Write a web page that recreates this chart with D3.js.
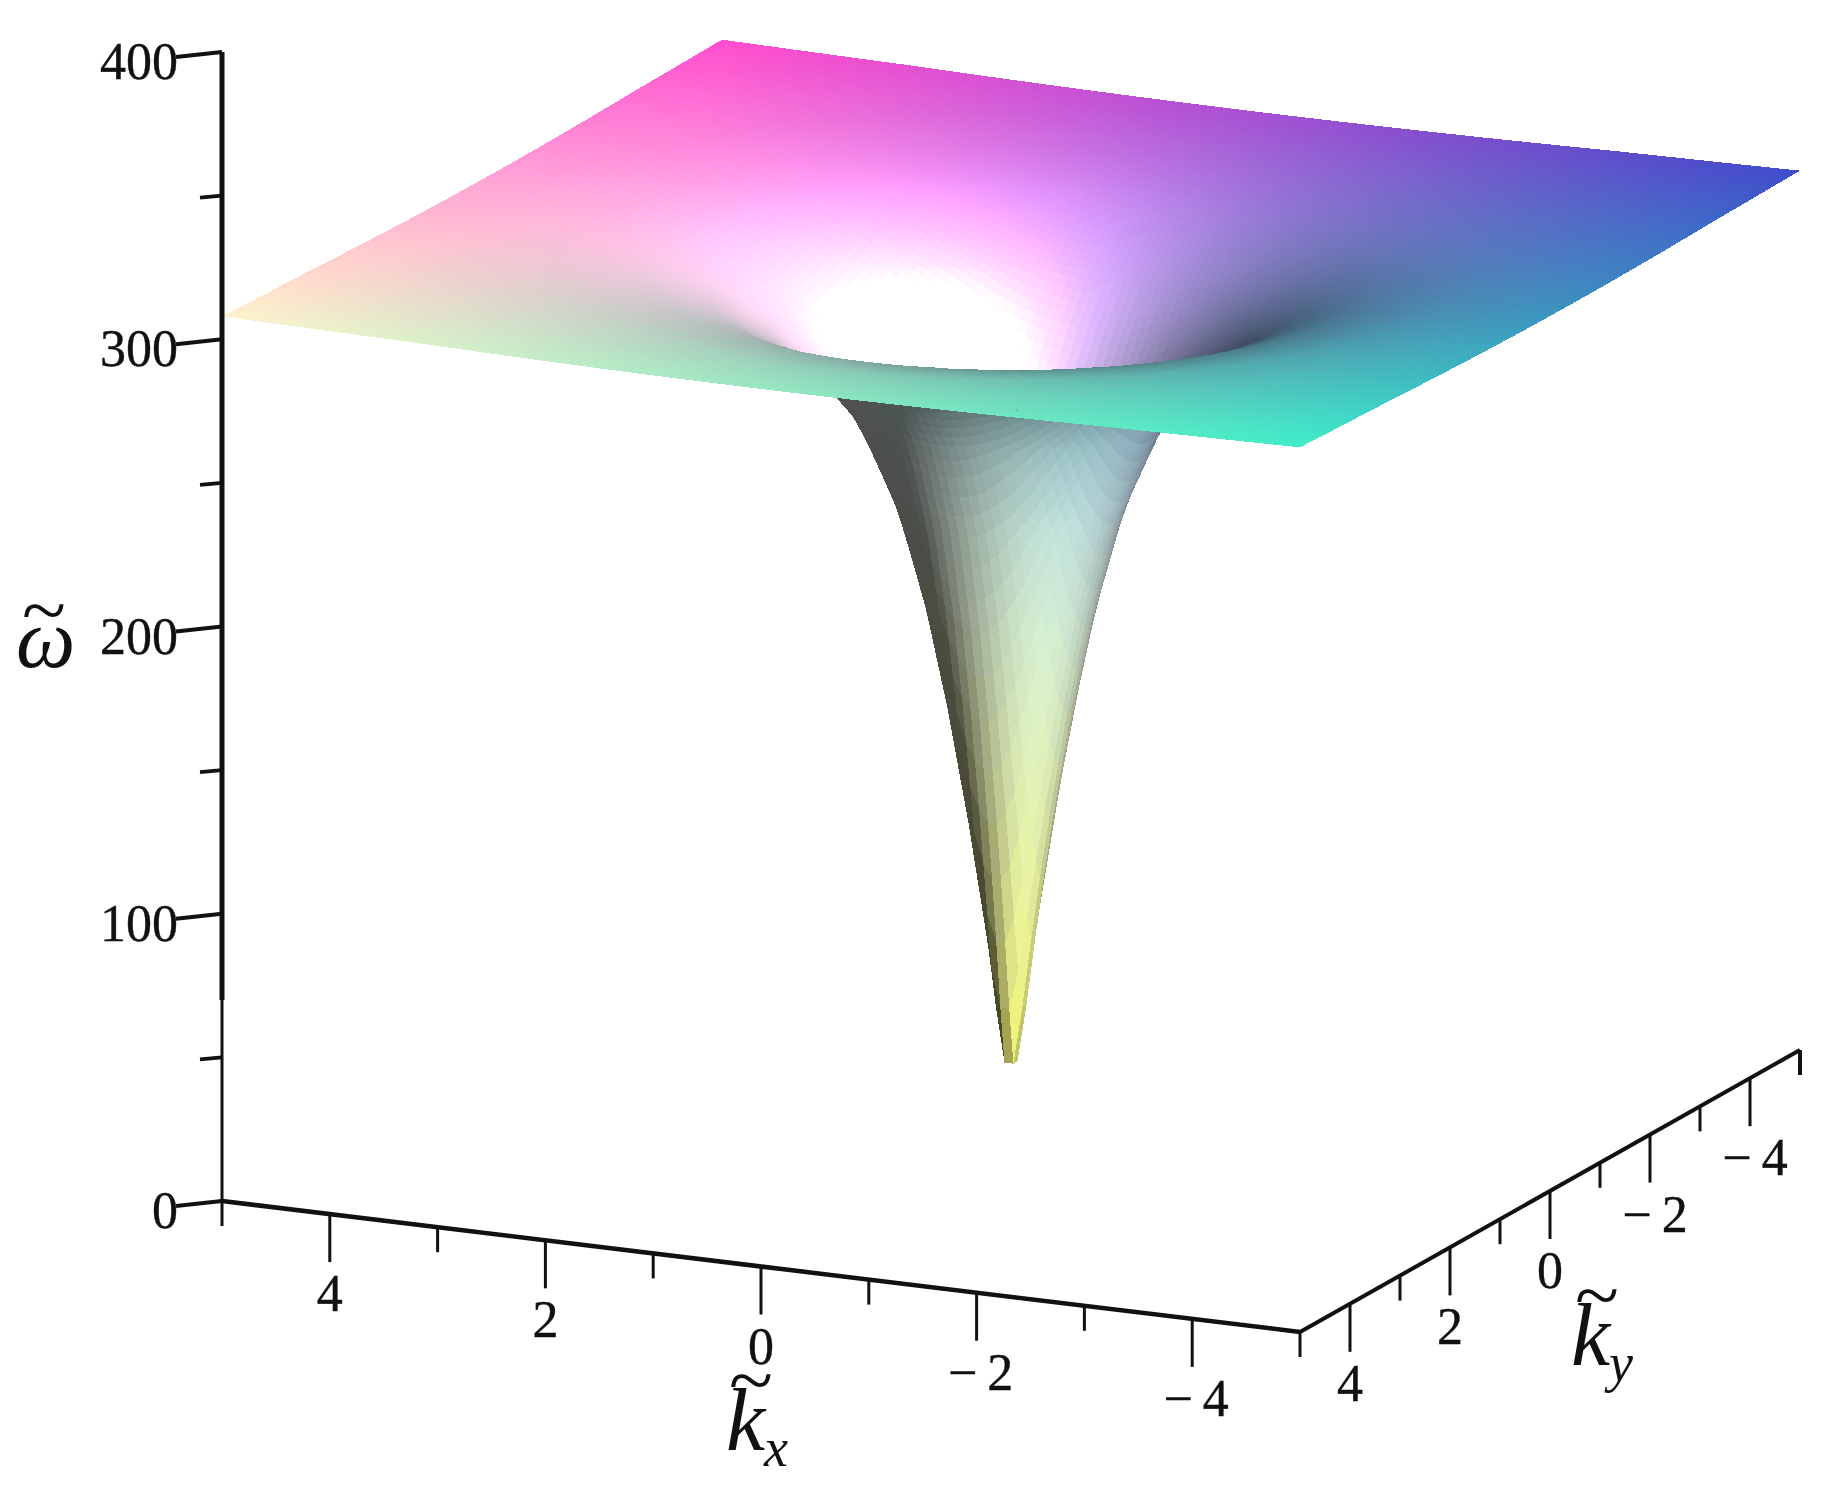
<!DOCTYPE html>
<html>
<head>
<meta charset="utf-8">
<script src="https://cdn.jsdelivr.net/npm/d3@7"></script>
<style>
  html, body { margin: 0; padding: 0; background: #fff; }
  text { font-family: "Liberation Serif", serif; fill: #111; }
</style>
</head>
<body>
<div id="chart"></div>
<script>
'use strict';

// valores
const kxTicks = [5, 4, 3, 2, 1, 0, -1, -2, -3, -4, -5];
const kyTicks = [5, 4, 3, 2, 1, 0, -1, -2, -3, -4, -5];
const kLabels = [4, 2, 0, -2, -4];
const wTicks = [0, 50, 100, 150, 200, 250, 300, 350, 400];
const wLabels = [0, 100, 200, 300, 400];

// perfil del embudo: radio en (kx, ky) y altura omega
const profileR = [0, 0.07, 0.135, 0.25, 0.39, 0.55, 0.73, 0.96, 1.22, 1.35, 1.6, 2, 2.5, 3, 4, 5, 6, 7.1, 8];
const profileW = [18, 23, 43.5, 78, 113, 149, 183, 216, 240, 250, 262, 277, 289, 296, 303, 305.5, 307, 308, 308];

const width = 1836;
const height = 1493;
const originX = 222;
const originY = 1201;
const gridN = 121;

// proyeccion paralela: cada eje tiene su desplazamiento en pantalla
const kxToX = d3.scaleLinear().domain([5, -5]).range([0, 1078]);
const kxToY = d3.scaleLinear().domain([5, -5]).range([0, 131]);
const kyToX = d3.scaleLinear().domain([5, -5]).range([0, 500]);
const kyToY = d3.scaleLinear().domain([5, -5]).range([0, -282]);
const wToY = d3.scaleLinear().domain([0, 400]).range([0, -1149]);
// un poco de perspectiva en la altura
const depth = d3.scaleLinear().domain([5, -5]).range([1, 0.994]);

const surface = d3.scaleLinear().domain(profileR).range(profileW).clamp(true);

// color xyz de Maple
const redScale = d3.scaleLinear().domain([-5, 5]).range([0.25, 1]);
const greenScale = d3.scaleLinear().domain([-5, 5]).range([0.3, 0.95]);
const blueScale = d3.scaleLinear().domain([22, 308]).range([0.31, 0.8]);

const light = [-0.72, 0.55, 0.42];
const ambient = 0.45;
const diffuse = 1.3;
const shine = 0.6;
const slopeScale = 1 / 50;

function project(kx, ky, w) {
  return [
    originX + kxToX(kx) + kyToX(ky),
    originY + kxToY(kx) + kyToY(ky) + wToY(w) * depth(ky),
  ];
}

function cellColor(kx, ky, w, flip) {
  const r = Math.hypot(kx, ky) || 1e-6;
  const h = Math.max(0.06, 0.35 * r);
  const lo = Math.max(0, r - h);
  const slope = (surface(r + h) - surface(lo)) / (r + h - lo);
  const sl = slope * slopeScale;
  let n = [-sl * kx / r, -sl * ky / r, 1];
  const len = Math.hypot(n[0], n[1], n[2]);
  n = n.map(v => v / len * (flip ? -1 : 1));
  const dot = Math.max(0, n[0] * light[0] + n[1] * light[1] + n[2] * light[2]);
  const m = ambient + diffuse * dot;
  // brillo blanco solo en la cara de arriba
  const spec = flip ? 0 : shine * Math.pow(dot, 8);
  return d3.rgb(
    255 * Math.min(1, redScale(kx) * m + spec),
    255 * Math.min(1, greenScale(ky) * m + spec),
    255 * Math.min(1, blueScale(w) * m + spec)
  ).formatHex();
}

// celdas ordenadas de atras hacia adelante
const step = 10 / gridN;
const cells = [];
d3.range(gridN).forEach(i => {
  const kx0 = 5 - i * step;
  const kx1 = kx0 - step;
  d3.range(gridN).forEach(j => {
    const ky0 = -5 + j * step;
    const ky1 = ky0 + step;
    const corners = [[kx0, ky0], [kx0, ky1], [kx1, ky1], [kx1, ky0]];
    const pts = corners.map(c => project(c[0], c[1], surface(Math.hypot(c[0], c[1]))));
    const flip = Math.sign(d3.polygonArea(pts)) !== Math.sign(d3.polygonArea(corners.map(c => project(c[0], c[1], 0))));
    const kx = (kx0 + kx1) / 2;
    const ky = (ky0 + ky1) / 2;
    cells.push({ pts, fill: cellColor(kx, ky, surface(Math.hypot(kx, ky)), flip) });
  });
});

const svg = d3.select('#chart').append('svg')
  .attr('width', width)
  .attr('height', height)
  .style('display', 'block');

const line = d3.line();

svg.append('g').attr('class', 'surface')
  .selectAll('path')
  .data(cells)
  .join('path')
  .attr('d', d => line(d.pts) + 'Z')
  .attr('fill', d => d.fill)
  .attr('shape-rendering', 'crispEdges');

// ejes
const axes = svg.append('g').attr('class', 'axes')
  .attr('stroke', '#111')
  .attr('fill', 'none')
  .attr('stroke-linecap', 'butt');

function axisLine(a, b, sw) {
  axes.append('line')
    .attr('x1', a[0]).attr('y1', a[1])
    .attr('x2', b[0]).attr('y2', b[1])
    .attr('stroke-width', sw);
}

axisLine(project(5, 5, 70), project(5, 5, 400), 5);
axisLine(project(5, 5, 0), project(5, 5, 70), 3);
axisLine(project(5, 5, 0), project(-5, 5, 0), 4.5);
axisLine(project(-5, 5, 0), project(-5, -5, 0), 4);

// marcas verticales en kx y ky
kxTicks.forEach(k => {
  const p = project(k, 5, 0);
  axisLine(p, [p[0], p[1] + (k % 2 === 0 ? 48 : 25)], 3);
});
kyTicks.slice(1).forEach(k => {
  const p = project(-5, k, 0);
  axisLine(p, [p[0], p[1] + (k % 2 === 0 ? 48 : 25)], k === -5 ? 4 : 3);
});

wTicks.forEach(w => {
  const p = project(5, 5, w);
  const major = w % 100 === 0;
  axisLine(p, [p[0] - (major ? 46 : 22), p[1] + (major ? 5 : 2)], 4);
});

function fmt(v) {
  return v < 0 ? '\u2212' + Math.abs(v) : String(v);
}

// etiquetas de ticks
const labels = svg.append('g').attr('class', 'labels')
  .attr('font-size', 52)
  .attr('stroke', '#111')
  .attr('stroke-width', 0.4);

labels.selectAll('text.w')
  .data(wLabels)
  .join('text')
  .attr('class', 'w')
  .attr('x', 178)
  .attr('y', d => project(5, 5, d)[1] + 27)
  .attr('text-anchor', 'end')
  .text(d => d);

labels.selectAll('text.kx')
  .data(kLabels)
  .join('text')
  .attr('class', 'kx')
  .attr('x', d => project(d, 5, 0)[0] + (d < 0 ? 9 : 0))
  .attr('y', d => project(d, 5, 0)[1] + 97)
  .attr('text-anchor', 'middle')
  .attr('letter-spacing', d => d < 0 ? 10 : 0)
  .text(fmt);

labels.selectAll('text.ky')
  .data(kLabels)
  .join('text')
  .attr('class', 'ky')
  .attr('x', d => project(-5, d, 0)[0] + (d < 0 ? 10 : 0))
  .attr('y', d => project(-5, d, 0)[1] + 97)
  .attr('text-anchor', 'middle')
  .attr('letter-spacing', d => d < 0 ? 10 : 0)
  .text(fmt);

// titulos de ejes: letra, tilde y subindice
function axisTitle(letter, sub, x, y, size, tildeX, tildeY) {
  const g = svg.append('g').attr('class', 'title').attr('font-style', 'italic');
  g.append('text').attr('x', x).attr('y', y).attr('font-size', size).text(letter);
  g.append('text')
    .attr('transform', `translate(${tildeX}, ${tildeY}) scale(1.4, 1.3)`)
    .attr('font-size', 58)
    .attr('font-style', 'normal')
    .text('~');
  if (sub) {
    g.append('text').attr('x', x + 38).attr('y', y + 16).attr('font-size', 54).text(sub);
  }
}

axisTitle('\u03c9', '', 16, 667, 84, 22, 636);
axisTitle('k', 'x', 726, 1450, 88, 729, 1406);
axisTitle('k', 'y', 1571, 1365, 88, 1575, 1321);
</script>
</body>
</html>
